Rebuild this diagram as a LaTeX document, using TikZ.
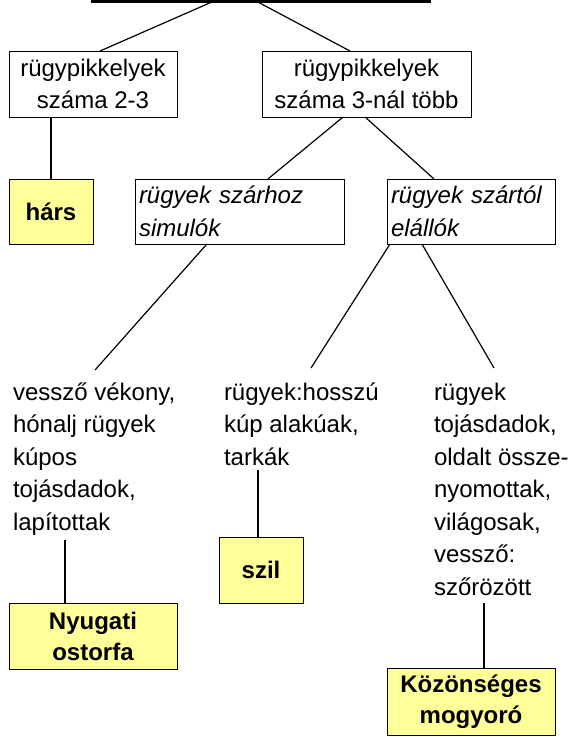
\documentclass[tikz,border=0pt]{standalone}
\usepackage{fontspec}
\setmainfont{Liberation Sans}
\usetikzlibrary{calc}
\definecolor{leafyellow}{HTML}{FFFF99}
\begin{document}
\begin{tikzpicture}[x=1pt,y=-1pt,
  every node/.style={outer sep=0pt},
  box/.style={draw, line width=1pt, inner sep=0pt, align=center, minimum height=66pt,
    font=\fontsize{24}{32}\selectfont},
  ibox/.style={draw, line width=1pt, inner xsep=4pt, inner ysep=0pt, align=left, minimum height=65pt,
    font=\fontsize{24}{33}\selectfont\itshape},
  leaf/.style={draw, line width=1pt, fill=leafyellow, inner sep=0pt, align=center,
    font=\fontsize{24}{31}\selectfont\bfseries},
  desc/.style={inner sep=0pt, align=left, anchor=north west, font=\fontsize{24}{32.5}\selectfont},
  conn/.style={line width=1.2pt}]
\useasboundingbox (0,0) rectangle (568,737);
% top (cut) box
\node[draw, line width=2.5pt, minimum width=338pt, minimum height=60pt, anchor=south west] (top) at (92,1.5) {};
% level 1
\node[box, minimum width=168pt] (b1) at (93,84) {rügypikkelyek\\száma 2-3};
\node[box, minimum width=209pt] (b2) at (366.5,84) {rügypikkelyek\\száma 3-nál több};
% level 2
\node[leaf, minimum width=84pt, minimum height=65pt] (hars) at (51,211.5) {hárs};
\node[ibox, text width=201pt] (b3) at (239.5,211.5) {rügyek szárhoz\\simulók};
\node[ibox, text width=160pt] (b4) at (471,211.5) {rügyek szártól\\elállók};
% descriptions
\node[desc] (t1) at (13,378) {\rule{0pt}{22pt}vessző vékony,\\hónalj rügyek\\kúpos\\tojásdadok,\\lapítottak};
\node[desc] (t2) at (224,378) {\rule{0pt}{22pt}rügyek:hosszú\\kúp alakúak,\\tarkák};
\node[desc] (t3) at (434,378) {\rule{0pt}{22pt}rügyek\\tojásdadok,\\oldalt össze-\\nyomottak,\\világosak,\\vessző:\\szőrözött};
% leaves
\node[leaf, minimum width=84pt, minimum height=66pt] (szil) at (261,570) {szil};
\node[leaf, minimum width=168pt, minimum height=66pt] (ny) at (93,636) {Nyugati\\ostorfa};
\node[leaf, minimum width=168pt, minimum height=67pt] (koz) at (471,701.5) {Közönséges\\mogyoró};
% connectors
\draw[conn] ($(top.south west)!0.358!(top.south east)$) -- ($(b1.north west)!0.542!(b1.north east)$);
\draw[conn] ($(top.south west)!0.488!(top.south east)$) -- ($(b2.north west)!0.421!(b2.north east)$);
\draw[conn] (hars.north |- b1.south) -- (hars.north);
\draw[conn] ($(b2.south west)!0.388!(b2.south east)$) -- ($(b3.north west)!0.636!(b3.north east)$);
\draw[conn] ($(b2.south west)!0.493!(b2.south east)$) -- ($(b4.north west)!0.28!(b4.north east)$);
\draw[conn] ($(b3.south west)!0.344!(b3.south east)$) -- ($(t1.north west)+(82,-8)$);
\draw[conn] ($(b4.south west)!0.018!(b4.south east)$) -- ($(t2.north west)+(87,-10)$);
\draw[conn] ($(b4.south west)!0.208!(b4.south east)$) -- ($(t3.north west)+(60,-10)$);
\coordinate (c1) at ($(t1.south west)+(52,5)$);
\coordinate (c2) at ($(t2.south west)+(34,5)$);
\coordinate (c3) at ($(t3.south west)+(50,8)$);
\draw[conn] (c1) -- (c1 |- ny.north);
\draw[conn] (c2) -- (c2 |- szil.north);
\draw[conn] (c3) -- (c3 |- koz.north);
\end{tikzpicture}
\end{document}
